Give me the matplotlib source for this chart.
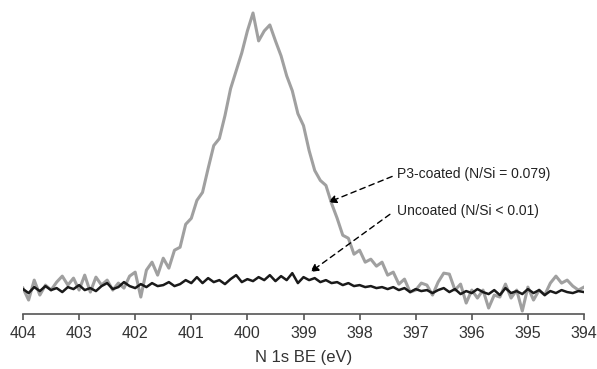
import numpy as np
import matplotlib
matplotlib.use("Agg")
import matplotlib.pyplot as plt

plt.rcParams['font.family'] = ['Liberation Sans', 'DejaVu Sans']

# binding energy grid, 404 -> 394 eV in 0.1 eV steps
be = np.round(np.linspace(404, 394, 101), 2)

# N 1s intensity (arb. units)
p3_coated = [25, 13, 33, 18, 28, 23, 31, 37, 28, 35,
             23, 38, 21, 36, 28, 33, 23, 30, 25, 37,
             41, 16, 43, 51, 38, 55, 45, 63, 66, 89,
             95, 113, 121, 145, 168, 175, 198, 225, 243, 261,
             283, 301, 273, 283, 289, 273, 258, 238, 223, 200,
             188, 163, 143, 133, 128, 110, 95, 78, 75, 59,
             63, 51, 54, 47, 51, 38, 41, 29, 34, 21,
             23, 30, 28, 18, 31, 40, 39, 23, 29, 10,
             23, 15, 23, 5, 18, 16, 29, 15, 23, 2,
             26, 13, 23, 18, 30, 37, 30, 33, 27, 23,
             26]

uncoated = [24, 20, 26, 22, 27, 23, 25, 21, 26, 24,
            28, 23, 25, 22, 27, 30, 24, 26, 31, 27,
            25, 29, 26, 30, 27, 28, 31, 27, 29, 33,
            30, 36, 30, 35, 31, 33, 29, 34, 38, 31,
            34, 32, 36, 33, 38, 32, 37, 33, 40, 30,
            36, 33, 35, 31, 33, 30, 31, 28, 30, 27,
            28, 26, 27, 25, 26, 24, 26, 23, 25, 21,
            24, 22, 23, 20, 23, 25, 21, 24, 19, 22,
            20, 24, 21, 19, 23, 18, 25, 20, 22, 19,
            24, 20, 23, 18, 22, 20, 23, 21, 20, 22,
            21]

xticks = list(range(404, 393, -1))
p3_label = "P3-coated (N/Si = 0.079)"
unc_label = "Uncoated (N/Si < 0.01)"

fig = plt.figure(figsize=(5.97, 3.69), dpi=100)
ax = fig.add_axes([23/597, 55/369, 561/597, 306/369])

ax.plot(be, p3_coated, color='#a0a0a0', lw=2.2, solid_joinstyle='round')
ax.plot(be, uncoated, color='#1a1a1a', lw=1.8, solid_joinstyle='round')

ax.set_xlim(404, 394)
ax.set_ylim(-1, 306)
ax.set_xticks(xticks)
ax.set_yticks([])
for s in ['left', 'right', 'top']:
    ax.spines[s].set_visible(False)
ax.spines['bottom'].set_color('#555555')
ax.spines['bottom'].set_linewidth(1.2)
ax.tick_params(axis='x', direction='out', length=4, width=1.2, color='#555555',
               labelsize=11.5, labelcolor='#333333', pad=5)
ax.set_xlabel("N 1s BE (eV)", fontsize=12, color='#333333', labelpad=6)

arrow = dict(arrowstyle='-|>', linestyle=(0, (4, 3)), color='black', lw=1.0,
             mutation_scale=12, shrinkA=0, shrinkB=0)
ax.annotate("", xy=(398.56, 111), xytext=(397.42, 137), arrowprops=arrow)
ax.annotate("", xy=(398.88, 41), xytext=(397.46, 99), arrowprops=arrow)
ax.text(397.33, 139, p3_label, fontsize=10, color='#222222', va='center', ha='left')
ax.text(397.33, 102, unc_label, fontsize=10, color='#222222', va='center', ha='left')

fig.savefig("out.png", dpi=100)
